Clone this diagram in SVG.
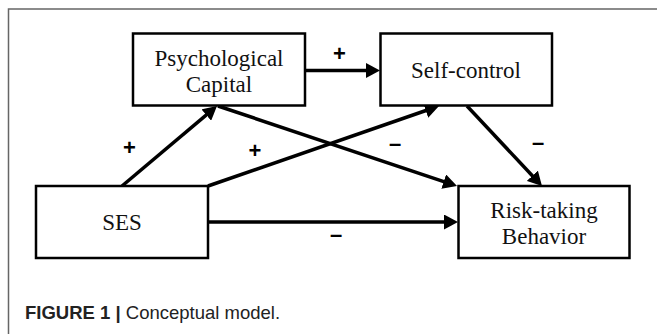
<svg xmlns="http://www.w3.org/2000/svg" width="657" height="334" viewBox="0 0 657 334">
  <style>
    .box { fill: #ffffff; stroke: #000000; stroke-width: 2.5; }
    .lbl { font-family: "Liberation Serif", "Times New Roman", serif; font-size: 23px; fill: #111111; text-anchor: middle; }
    .sign { font-family: "Liberation Sans", Arial, sans-serif; font-size: 22px; font-weight: bold; fill: #000000; text-anchor: middle; }
    .conn { fill: none; stroke: #000000; stroke-width: 3.5; marker-end: url(#arrow); }
    .frame { fill: none; stroke: #666666; stroke-width: 1.5; }
    .cap { font-family: "Liberation Sans", Arial, sans-serif; font-size: 18.5px; fill: #222222; }
  </style>
  <defs>
    <marker id="arrow" markerUnits="userSpaceOnUse" markerWidth="14" markerHeight="15" refX="4" refY="7.5" orient="auto">
      <path d="M0,0 L14,7.5 L0,15 Z" fill="#000000"/>
    </marker>
  </defs>
  <rect width="657" height="334" fill="#ffffff"/>
  <path class="frame" d="M8.5,334 L8.5,9 L657,9"/>

  <g id="connectors">
    <path class="conn" d="M305,70.5 L370,70.5"/>
    <path class="conn" d="M122,186 L209.35,112.44"/>
    <path class="conn" d="M208,186 L429.55,109.27"/>
    <path class="conn" d="M218,106 L447.52,182.83"/>
    <path class="conn" d="M467,106 L535.16,178.7"/>
    <path class="conn" d="M208,222 L448,222"/>
  </g>

  <g id="edge-labels">
    <text class="sign" x="339.5" y="60.5">+</text>
    <text class="sign" x="129.5" y="154.5">+</text>
    <text class="sign" x="255" y="158">+</text>
    <text class="sign" x="395" y="151">–</text>
    <text class="sign" x="538" y="149.5">–</text>
    <text class="sign" x="336" y="242">–</text>
  </g>

  <g id="node-psychological-capital">
    <rect class="box" x="133" y="33.5" width="172" height="72"/>
    <text class="lbl" x="219" y="66">Psychological</text>
    <text class="lbl" x="219" y="92">Capital</text>
  </g>
  <g id="node-self-control">
    <rect class="box" x="380.5" y="33.5" width="171.5" height="72"/>
    <text class="lbl" x="466" y="77.5">Self-control</text>
  </g>
  <g id="node-ses">
    <rect class="box" x="36" y="186" width="172" height="72"/>
    <text class="lbl" x="122" y="230">SES</text>
  </g>
  <g id="node-risk-taking-behavior">
    <rect class="box" x="458.5" y="186" width="171" height="72"/>
    <text class="lbl" x="544" y="218">Risk-taking</text>
    <text class="lbl" x="544" y="244">Behavior</text>
  </g>

  <text class="cap" x="25" y="318.5"><tspan font-weight="bold">FIGURE 1 |</tspan> Conceptual model.</text>
</svg>
